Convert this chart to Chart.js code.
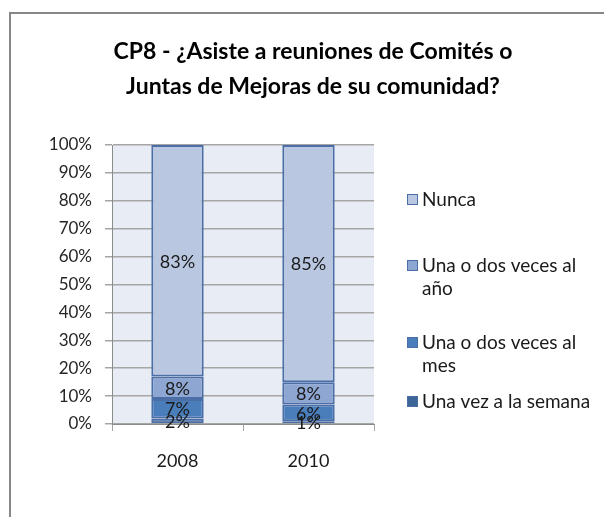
<!DOCTYPE html>
<html>
<head>
<meta charset="utf-8">
<script src="https://cdn.jsdelivr.net/npm/chart.js@4"></script>
<style>
  body { margin: 0; background: #fff; overflow: hidden; }
  #wrap { position: relative; width: 604px; height: 517px; }
  #frame { position: absolute; left: 9px; top: 12px; width: 800px; height: 800px; border: 2px solid #878787; }
  canvas { position: absolute; left: 0; top: 0; }
</style>
</head>
<body>
<div id="wrap">
  <div id="frame"></div>
  <canvas id="cp8Chart" width="604" height="517"></canvas>
</div>
<script>
// Data (percent)
const years = ['2008', '2010'];
const seriesNames = ['Una vez a la semana', 'Una o dos veces al mes', 'Una o dos veces al año', 'Nunca'];
const semana = [2, 1];
const mes = [7, 6];
const anio = [8, 8];
const nunca = [83, 85];
const yTicks = [0, 10, 20, 30, 40, 50, 60, 70, 80, 90, 100];

const titleLines = ['CP8 - ¿Asiste a reuniones de Comités o', 'Juntas de Mejoras de su comunidad?'];
// legend text wrapped like the original (top to bottom)
const legendLines = [['Nunca'], ['Una o dos veces al', 'año'], ['Una o dos veces al', 'mes'], ['Una vez a la semana']];

const colors = ['#3D6598', '#4A7EBB', '#8EA6D2', '#B9C7E1'];
const edge = '#4A6EA5';
const FONT = 'Lato, "Liberation Sans", sans-serif';

// plot background, title, segment labels and legend
const extras = {
    id: 'extras',
    beforeDraw(chart) {
        const a = chart.chartArea;
        const c = chart.ctx;
        c.save();
        c.fillStyle = '#E8ECF4';
        c.fillRect(a.left, a.top, a.right - a.left, a.bottom - a.top);
        c.restore();
    },
    afterDraw(chart) {
        const c = chart.ctx;
        c.save();
        // title
        c.fillStyle = '#000';
        c.font = 'bold 23px ' + FONT;
        c.textAlign = 'center';
        c.textBaseline = 'middle';
        titleLines.forEach((t, i) => c.fillText(t, 313, 52 + i * 35));

        // segment labels
        c.font = '18px ' + FONT;
        c.fillStyle = '#1a1a1a';
        chart.data.datasets.forEach((ds, i) => {
            chart.getDatasetMeta(i).data.forEach((bar, j) => {
                c.fillText(ds.data[j] + '%', bar.x, (bar.y + bar.base) / 2 + 1);
            });
        });

        // legend (reverse order: Nunca on top)
        const baselines = [[206], [272, 295], [349, 372], [408]];
        c.font = '19px ' + FONT;
        c.textAlign = 'left';
        c.textBaseline = 'alphabetic';
        legendLines.forEach((lines, k) => {
            const col = colors[colors.length - 1 - k];
            const b0 = baselines[k][0];
            c.fillStyle = col;
            c.fillRect(407, b0 - 12, 11, 11);
            c.strokeStyle = edge;
            c.lineWidth = 1;
            c.strokeRect(407.5, b0 - 11.5, 10, 10);
            c.fillStyle = '#1a1a1a';
            lines.forEach((t, i) => c.fillText(t, 422, baselines[k][i]));
        });
        c.restore();
    }
};

const ctx = document.getElementById('cp8Chart').getContext('2d');
const seriesData = [semana, mes, anio, nunca];

const cp8Chart = new Chart(ctx, {
    type: 'bar',
    data: {
        labels: years,
        datasets: seriesNames.map((name, i) => ({
            label: name,
            data: seriesData[i],
            backgroundColor: colors[i],
            borderColor: edge,
            borderWidth: 2,
            borderSkipped: false,
            barPercentage: 0.4,
            categoryPercentage: 1.0
        }))
    },
    options: {
        responsive: false,
        animation: false,
        layout: { padding: { left: 0, right: 230, top: 145, bottom: 0 } },
        plugins: {
            legend: { display: false },
            title: { display: false },
            tooltip: { enabled: false }
        },
        scales: {
            x: {
                stacked: true,
                afterFit: (scale) => { scale.height = 93; },
                border: { color: '#8C8C8C', width: 1 },
                grid: { drawOnChartArea: false, drawTicks: true, tickLength: 7, color: '#A6A6A6' },
                ticks: { padding: 19, color: '#1a1a1a', font: { family: FONT, size: 18 } }
            },
            y: {
                stacked: true,
                min: 0,
                max: 100,
                afterFit: (scale) => { scale.width = 112; },
                afterBuildTicks: (scale) => { scale.ticks = yTicks.map(v => ({ value: v })); },
                border: { color: '#8C8C8C', width: 1 },
                grid: { color: '#A6A6A6', lineWidth: 1.5, tickLength: 7 },
                ticks: {
                    padding: 13,
                    color: '#262626',
                    font: { family: FONT, size: 17 },
                    callback: (v) => v + '%'
                }
            }
        }
    },
    plugins: [extras]
});
</script>
</body>
</html>
